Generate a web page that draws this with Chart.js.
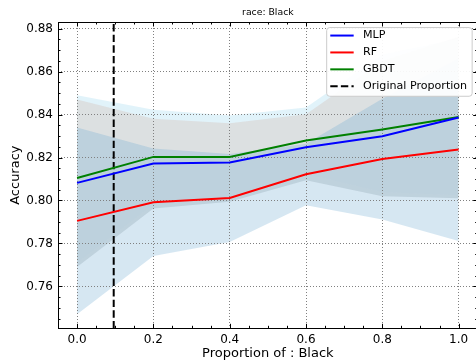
<!DOCTYPE html>
<html>
<head>
<meta charset="utf-8">
<script src="https://cdn.jsdelivr.net/npm/chart.js@4"></script>
<style>
html, body { margin: 0; padding: 0; background: #fff; width: 476px; height: 363px; overflow: hidden; }
canvas { display: block; }
</style>
</head>
<body>
<canvas id="chart" width="490" height="363" style="width:490px;height:363px"></canvas>
<script>
// values
const proportions = [0.0, 0.2, 0.4, 0.6, 0.8, 1.0];
const mlpAcc  = [0.8082, 0.8172, 0.8177, 0.8248, 0.8299, 0.8386];
const rfAcc   = [0.7905, 0.7992, 0.8012, 0.8122, 0.8193, 0.8237];
const gbdtAcc = [0.8105, 0.8203, 0.8203, 0.8279, 0.8330, 0.8389];

const mlpLow   = [0.7690, 0.7963, 0.7994, 0.8094, 0.8020, 0.8010];
const mlpHigh  = [0.8470, 0.8381, 0.8360, 0.8402, 0.8650, 0.8762];
const rfLow    = [0.7470, 0.7742, 0.7807, 0.7978, 0.7912, 0.7812];
const rfHigh   = [0.8340, 0.8242, 0.8217, 0.8264, 0.8474, 0.8662];
const gbdtLow  = [0.7710, 0.7983, 0.8010, 0.8125, 0.8040, 0.8025];
const gbdtHigh = [0.8490, 0.8423, 0.8396, 0.8433, 0.8680, 0.8753];

const originalProportion = 0.096;

const xTicks = [0.0, 0.2, 0.4, 0.6, 0.8, 1.0];
const yTicks = [0.76, 0.78, 0.80, 0.82, 0.84, 0.86, 0.88];
const xRange = [-0.05, 1.05];
const yRange = [0.7405, 0.8831];

const FONT = "'DejaVu Sans', sans-serif";

const pts = ys => proportions.map((x, i) => ({ x, y: ys[i] }));

function band(high, low, color, order, lowerIndex) {
    return [
        { data: pts(high), fill: lowerIndex, backgroundColor: color, borderColor: 'rgba(0,0,0,0)',
          borderWidth: 0, pointRadius: 0, order },
        { data: pts(low), fill: false, borderColor: 'rgba(0,0,0,0)',
          borderWidth: 0, pointRadius: 0, order }
    ];
}

const datasets = [
    { label: 'MLP', data: pts(mlpAcc), borderColor: '#0000ff', borderWidth: 2, pointRadius: 0, order: 0 },
    { label: 'RF', data: pts(rfAcc), borderColor: '#ff0000', borderWidth: 2, pointRadius: 0, order: 0 },
    { label: 'GBDT', data: pts(gbdtAcc), borderColor: '#008000', borderWidth: 2, pointRadius: 0, order: 0 },
    { label: 'Original Proportion',
      data: [{ x: originalProportion, y: yRange[0] }, { x: originalProportion, y: yRange[1] }],
      borderColor: '#000', borderWidth: 2, borderDash: [7.4, 3.2], pointRadius: 0, order: 0 },
];
// bands: gbdt at the bottom, mlp grey over it, rf blue on top
datasets.push(...band(rfHigh, rfLow, 'rgba(114,172,210,0.29)', 1, datasets.length + 1));
datasets.push(...band(mlpHigh, mlpLow, 'rgba(220,222,223,0.9)', 2, datasets.length + 1));
datasets.push(...band(gbdtHigh, gbdtLow, 'rgba(135,206,235,0.25)', 3, datasets.length + 1));

// spines, inward ticks and the boxed legend, matplotlib style
const framePlugin = {
    id: 'frame',
    afterDatasetsDraw(chart) {
        const ctx = chart.ctx;
        const { left, right, top, bottom } = chart.chartArea;
        const xs = chart.scales.x, ys = chart.scales.y;
        ctx.save();
        ctx.strokeStyle = '#000';
        ctx.lineWidth = 1;
        ctx.strokeRect(Math.round(left) + 0.5, Math.round(top) + 0.5,
                       Math.round(right - left), Math.round(bottom - top));

        const tick = (x1, y1, x2, y2) => { ctx.beginPath(); ctx.moveTo(x1, y1); ctx.lineTo(x2, y2); ctx.stroke(); };
        const minor = (range, step) => {
            const out = [];
            for (let k = Math.ceil(range[0] / step - 1e-9); k * step <= range[1] + 1e-9; k++) out.push(k * step);
            return out;
        };
        for (const v of minor(xRange, 0.05)) {
            const major = xTicks.some(t => Math.abs(t - v) < 1e-6);
            const len = major ? 4.5 : 2.5;
            const px = Math.round(xs.getPixelForValue(v)) + 0.5;
            tick(px, bottom, px, bottom - len);
            tick(px, top, px, top + len);
        }
        for (const v of minor(yRange, 0.005)) {
            const major = yTicks.some(t => Math.abs(t - v) < 1e-6);
            const len = major ? 4.5 : 2.5;
            const py = Math.round(ys.getPixelForValue(v)) + 0.5;
            tick(left, py, left + len, py);
            tick(right, py, right - len, py);
        }

        // legend
        const fs = 11.1;
        const items = chart.data.datasets.filter(d => d.label);
        ctx.font = fs + 'px ' + FONT;
        const textW = Math.max(...items.map(d => ctx.measureText(d.label).width));
        const padL = 3.6, handle = 23.4, gap = 9.3, padR = 5, rowH = 16.9;
        const boxW = padL + handle + gap + textW + padR;
        const boxH = rowH * items.length + 1.1;
        const bx = right - 0.5 * fs - boxW;
        const by = top + 0.5 * fs;
        ctx.beginPath();
        ctx.roundRect(bx, by, boxW, boxH, 3);
        ctx.fillStyle = 'rgba(255,255,255,0.93)';
        ctx.fill();
        ctx.strokeStyle = '#cccccc';
        ctx.stroke();
        items.forEach((d, i) => {
            const cy = by + 8 + i * rowH;
            ctx.strokeStyle = d.borderColor;
            ctx.lineWidth = 2;
            ctx.setLineDash(d.borderDash || []);
            tick(bx + padL, cy, bx + padL + handle, cy);
            ctx.setLineDash([]);
            ctx.fillStyle = '#000';
            ctx.textBaseline = 'middle';
            ctx.fillText(d.label, bx + padL + handle + gap, cy);
        });
        ctx.restore();
    }
};

new Chart(document.getElementById('chart'), {
    type: 'line',
    data: { datasets },
    options: {
        responsive: false,
        animation: false,
        events: [],
        layout: { padding: { left: 0, top: 0, right: 12.3, bottom: 0 } },
        plugins: {
            legend: { display: false },
            tooltip: { enabled: false },
            filler: { drawTime: 'beforeDraw' },
            title: {
                display: true, text: 'race: Black', fullSize: false, color: '#000',
                font: { family: FONT, size: 9.3, weight: 'normal' },
                padding: { top: 7, bottom: 3.84 }
            }
        },
        scales: {
            x: {
                type: 'linear', min: xRange[0], max: xRange[1],
                afterBuildTicks: s => { s.ticks = xTicks.map(v => ({ value: v })); },
                afterFit: s => { s.height = 34.7; },
                ticks: { callback: v => v.toFixed(1), color: '#000', padding: 4, maxRotation: 0, autoSkip: false,
                         font: { family: FONT, size: 12 } },
                grid: { color: '#808080', lineWidth: 1, drawTicks: false },
                border: { display: false, dash: [1, 2] },
                title: { display: true, text: 'Proportion of : Black', color: '#000',
                         font: { family: FONT, size: 13 }, padding: { top: 0, bottom: 1.5 } }
            },
            y: {
                type: 'linear', min: yRange[0], max: yRange[1],
                afterBuildTicks: s => { s.ticks = yTicks.map(v => ({ value: v })); },
                afterFit: s => { s.width = 58; },
                ticks: { callback: v => v.toFixed(2), color: '#000', padding: 5, autoSkip: false,
                         font: { family: FONT, size: 12 } },
                grid: { color: '#808080', lineWidth: 1, drawTicks: false },
                border: { display: false, dash: [1, 2] },
                title: { display: true, text: 'Accuracy', color: '#000',
                         font: { family: FONT, size: 13 }, padding: { top: 8.2, bottom: 0 } }
            }
        }
    },
    plugins: [framePlugin]
});
</script>
</body>
</html>
